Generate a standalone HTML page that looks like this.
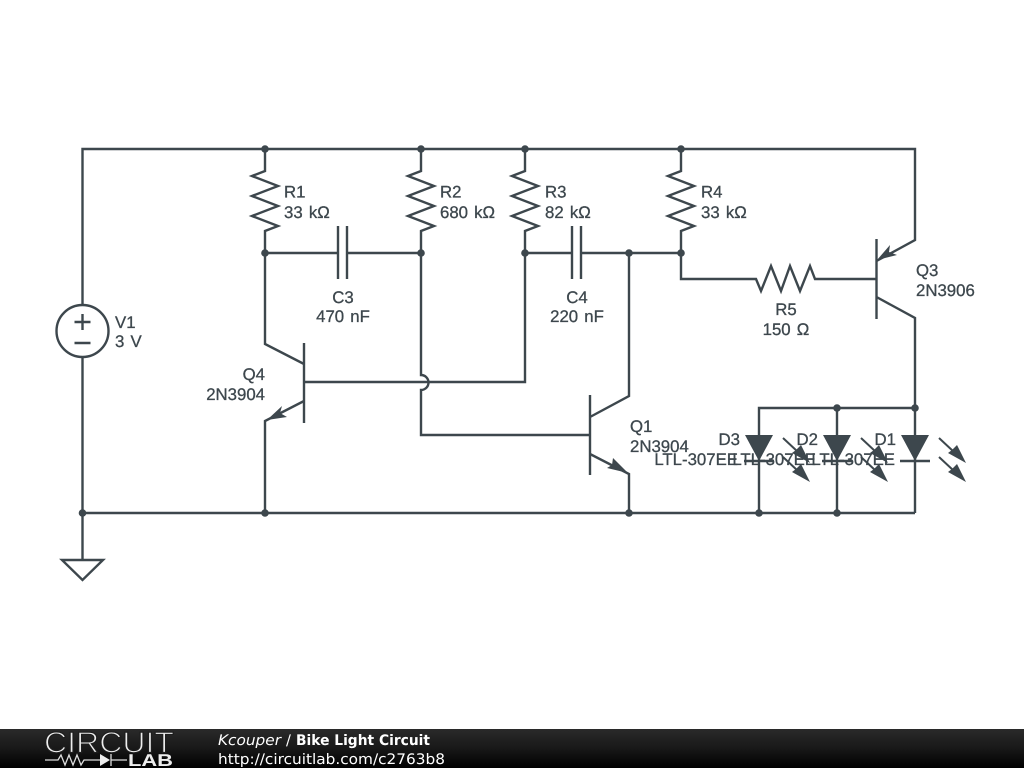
<!DOCTYPE html>
<html><head><meta charset="utf-8"><style>
html,body{margin:0;padding:0;background:#fff;width:1024px;height:768px;overflow:hidden}
svg{display:block;position:absolute;left:0;top:0}
.w{fill:none;stroke:#3d474d;stroke-width:2.4;stroke-linejoin:miter}
.f{fill:#3d474d;stroke:none}
text{text-rendering:geometricPrecision}
text.l{font-family:"Liberation Sans",sans-serif;font-size:16.8px;fill:#3d474d;stroke:#3d474d;stroke-width:0.3px;word-spacing:1.5px}
</style></head><body>
<svg width="1024" height="768" viewBox="0 0 1024 768" xmlns="http://www.w3.org/2000/svg">
<defs>
<linearGradient id="g" x1="0" y1="0" x2="0" y2="1"><stop offset="0" stop-color="#2a2a2a"/><stop offset="0.5" stop-color="#181818"/><stop offset="1" stop-color="#000"/></linearGradient>
</defs>
<rect width="1024" height="768" fill="#fff"/>
<!-- wires -->
<path class="w" d="M82.500 305V149H915V240L876.500 261"/>
<path class="w" d="M82.500 357V559"/>
<path class="w" d="M82.500 513H915"/>
<path class="w" d="M62 560H103L82.500 580Z"/>
<circle class="w" cx="82.500" cy="331" r="26"/>
<path class="w" d="M82.500 314V330M74.500 322H90.500M74.500 343H90.500"/>
<!-- R1 to R4 -->
<path class="w" d="M265 149V171L252 176L278 186L252 196L278 206L252 216L278 226L265 231V344L304 364"/>
<path class="w" d="M421 149V171L408 176L434 186L408 196L434 206L408 216L434 226L421 231V375A7.500 7.500 0 0 1 421 390V435H590"/>
<path class="w" d="M525 149V171L512 176L538 186L512 196L538 206L512 216L538 226L525 231V382H304"/>
<path class="w" d="M681 149V171L668 176L694 186L668 196L694 206L668 216L694 226L681 231V279H756L761 291L771 266L781 291L790 266L800 291L810 266L815 279H876"/>
<!-- caps -->
<path class="w" d="M265 253H338M347 253H421M338 226V279M347 226V279"/>
<path class="w" d="M525 253H572M581 253H681M572 226V279M581 226V279"/>
<!-- Q4 -->
<path class="w" d="M304 343V423M304 401L265 421V513"/>
<path class="f" d="M267 420L282 406L280 413L287 417Z"/>
<!-- Q1 -->
<path class="w" d="M590 395V475M590 417L629 396V253M590 454L629 474V513"/>
<path class="f" d="M628 473L607 468L612 465L613 458Z"/>
<!-- Q3 -->
<path class="w" d="M876.500 239V319M876.500 297L915 318V513"/>
<path class="f" d="M877 260L890 245L889 252L897 255Z"/>
<!-- LEDs -->
<path class="w" d="M759 513V408H915M837 408V513"/>
<path class="f" d="M745 435H773L759 461ZM823 435H851L837 461ZM901 435H929L915 461Z"/>
<path class="w" d="M744 461H774M822 461H852M900 461H930"/>
<g>
<path class="w" style="stroke-width:2" d="M783 438L798 452M783 457L798 471"/>
<path class="f" d="M810 463L792 453L796 450L801 445ZM810 482L792 472L796 469L801 464Z"/>
</g>
<g transform="translate(78,0)"><path class="w" style="stroke-width:2" d="M783 438L798 452M783 457L798 471"/><path class="f" d="M810 463L792 453L796 450L801 445ZM810 482L792 472L796 469L801 464Z"/></g>
<g transform="translate(156,0)"><path class="w" style="stroke-width:2" d="M783 438L798 452M783 457L798 471"/><path class="f" d="M810 463L792 453L796 450L801 445ZM810 482L792 472L796 469L801 464Z"/></g>
<!-- junctions -->
<g class="f">
<circle cx="265" cy="149" r="3.800"/><circle cx="421" cy="149" r="3.800"/><circle cx="525" cy="149" r="3.800"/><circle cx="681" cy="149" r="3.800"/>
<circle cx="265" cy="253" r="3.800"/><circle cx="421" cy="253" r="3.800"/><circle cx="525" cy="253" r="3.800"/><circle cx="629" cy="253" r="3.800"/><circle cx="681" cy="253" r="3.800"/>
<circle cx="837" cy="408" r="3.800"/><circle cx="915" cy="408" r="3.800"/>
<circle cx="82.500" cy="513" r="3.800"/><circle cx="265" cy="513" r="3.800"/><circle cx="629" cy="513" r="3.800"/><circle cx="759" cy="513" r="3.800"/><circle cx="837" cy="513" r="3.800"/>
</g>
<!-- labels -->
<text class="l" x="284" y="197.500">R1</text><text class="l" x="284" y="218">33 kΩ</text>
<text class="l" x="440" y="197.500">R2</text><text class="l" x="440" y="218">680 kΩ</text>
<text class="l" x="545" y="197.500">R3</text><text class="l" x="545" y="218">82 kΩ</text>
<text class="l" x="701" y="197.500">R4</text><text class="l" x="701" y="218">33 kΩ</text>
<text class="l" x="343" y="303" text-anchor="middle">C3</text><text class="l" x="343" y="322" text-anchor="middle">470 nF</text>
<text class="l" x="577" y="303" text-anchor="middle">C4</text><text class="l" x="577" y="322" text-anchor="middle">220 nF</text>
<text class="l" x="786" y="315" text-anchor="middle">R5</text><text class="l" x="786" y="335" text-anchor="middle">150 Ω</text>
<text class="l" x="115" y="328">V1</text><text class="l" x="115" y="347">3 V</text>
<text class="l" x="265" y="380" text-anchor="end">Q4</text><text class="l" x="265" y="400" text-anchor="end">2N3904</text>
<text class="l" x="630" y="432">Q1</text><text class="l" x="630" y="452">2N3904</text>
<text class="l" x="916" y="276">Q3</text><text class="l" x="916" y="296">2N3906</text>
<text class="l" x="740" y="445" text-anchor="end">D3</text><text class="l" x="738" y="465" text-anchor="end">LTL-307EE</text>
<text class="l" x="818" y="445" text-anchor="end">D2</text><text class="l" x="816" y="465" text-anchor="end">LTL-307EE</text>
<text class="l" x="896" y="445" text-anchor="end">D1</text><text class="l" x="895" y="465" text-anchor="end">LTL-307EE</text>
<!-- footer -->
<rect x="0" y="729" width="1024" height="39" fill="url(#g)"/>
<text x="44" y="752.500" font-family="'Liberation Sans',sans-serif" font-size="29.500" fill="#eee" stroke="#1e1e1e" stroke-width="1.200" textLength="130" lengthAdjust="spacingAndGlyphs">CIRCUIT</text>
<path d="M45 760H58L61 755L65 765L69 755L73 765L77 755L81 765L84 760H100M127 760H111M111 754V766" fill="none" stroke="#ddd" stroke-width="1.300"/>
<path d="M100 754V766L110 760Z" fill="#eee"/>
<text x="128" y="766" font-family="'Liberation Sans',sans-serif" font-size="17" font-weight="bold" fill="#eee" textLength="45" lengthAdjust="spacingAndGlyphs">LAB</text>
<text x="218" y="745" font-family="'DejaVu Sans',sans-serif" font-size="14.500" font-style="italic" fill="#fff" textLength="63" lengthAdjust="spacingAndGlyphs">Kcouper</text>
<text x="286" y="745" font-family="'DejaVu Sans',sans-serif" font-size="14.500" fill="#fff">/</text>
<text x="296" y="745" font-family="'DejaVu Sans',sans-serif" font-size="14.500" font-weight="bold" fill="#fff" textLength="134" lengthAdjust="spacingAndGlyphs">Bike Light Circuit</text>
<text x="218" y="764" font-family="'DejaVu Sans',sans-serif" font-size="14.500" fill="#fff" textLength="227" lengthAdjust="spacingAndGlyphs">http://circuitlab.com/c2763b8</text>
</svg>
</body></html>
